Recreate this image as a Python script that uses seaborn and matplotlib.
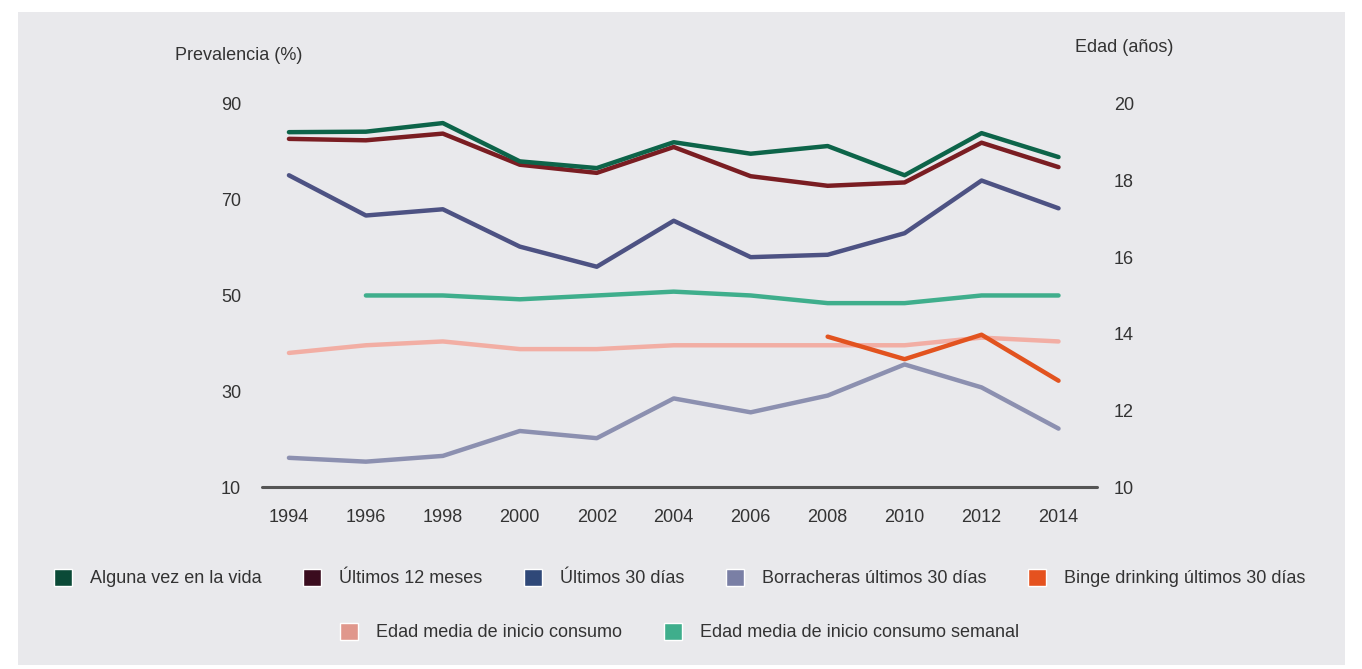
import numpy as np
import pandas as pd
import matplotlib.pyplot as plt
import seaborn as sns
from matplotlib.patches import Patch, Rectangle

years = [1994, 1996, 1998, 2000, 2002, 2004, 2006, 2008, 2010, 2012, 2014]
nan = np.nan

# prevalencias (%) - eje izquierdo
alguna_vez = [84.1, 84.2, 86.0, 78.0, 76.6, 82.0, 79.6, 81.2, 75.1, 83.9, 78.9]
ultimos_12 = [82.7, 82.4, 83.8, 77.3, 75.6, 81.0, 74.9, 72.9, 73.6, 81.9, 76.8]
ultimos_30 = [75.1, 66.7, 68.0, 60.2, 56.0, 65.6, 58.0, 58.5, 63.0, 74.0, 68.2]
borracheras = [16.1, 15.3, 16.5, 21.7, 20.2, 28.5, 25.6, 29.1, 35.6, 30.8, 22.2]
binge = [nan, nan, nan, nan, nan, nan, nan, 41.4, 36.7, 41.8, 32.2]

# edades (años) - eje derecho
edad_inicio = [13.5, 13.7, 13.8, 13.6, 13.6, 13.7, 13.7, 13.7, 13.7, 13.9, 13.8]
edad_semanal = [nan, 15.0, 15.0, 14.9, 15.0, 15.1, 15.0, 14.8, 14.8, 15.0, 15.0]

prev_names = ['Alguna vez en la vida', 'Últimos 12 meses', 'Últimos 30 días',
              'Borracheras últimos 30 días', 'Binge drinking últimos 30 días']
age_names = ['Edad media de inicio consumo', 'Edad media de inicio consumo semanal']

line_colors = {
    'Alguna vez en la vida': '#0d6449',
    'Últimos 12 meses': '#7a1d22',
    'Últimos 30 días': '#4d5283',
    'Borracheras últimos 30 días': '#8c90b0',
    'Binge drinking últimos 30 días': '#e2531f',
    'Edad media de inicio consumo': '#f2aea4',
    'Edad media de inicio consumo semanal': '#3fae8c',
}
legend_colors = {
    'Alguna vez en la vida': '#0b4a37',
    'Últimos 12 meses': '#3a0c1e',
    'Últimos 30 días': '#2f4878',
    'Borracheras últimos 30 días': '#7a7fa5',
    'Binge drinking últimos 30 días': '#e5521f',
    'Edad media de inicio consumo': '#e0978c',
    'Edad media de inicio consumo semanal': '#3fae8c',
}

prev = pd.DataFrame({'Año': years * 5,
                     'Serie': np.repeat(prev_names, len(years)),
                     'Valor': alguna_vez + ultimos_12 + ultimos_30 + borracheras + binge})
ages = pd.DataFrame({'Año': years * 2,
                     'Serie': np.repeat(age_names, len(years)),
                     'Valor': edad_inicio + edad_semanal})

sns.set_style('white')
plt.rcParams['font.family'] = ['Liberation Sans', 'DejaVu Sans']
text_col = '#333333'
fs = 13

fig = plt.figure(figsize=(13.62, 6.69), dpi=100)
fig.patch.set_facecolor('white')
fig.patches.append(Rectangle((18 / 1362, 4 / 669), 1327 / 1362, 653 / 669,
                             transform=fig.transFigure, facecolor='#e9e9ec',
                             edgecolor='none', zorder=-10))

ax = fig.add_axes([262 / 1362, 0.272, 835 / 1362, 0.587])
ax2 = ax.twinx()

sns.lineplot(data=prev, x='Año', y='Valor', hue='Serie', palette=line_colors,
             hue_order=prev_names[::-1], linewidth=3.2, legend=False, ax=ax)
sns.lineplot(data=ages, x='Año', y='Valor', hue='Serie', palette=line_colors,
             linewidth=3.2, legend=False, ax=ax2)
# age lines behind prevalence lines
ax.set_zorder(2)
ax.patch.set_visible(False)
ax2.set_zorder(1)
ax2.set_facecolor('#edeef1')

ax.set_xlim(1993.3, 2015.0)
ax.set_ylim(10, 92)
ax2.set_ylim(10, 10 + 82 / 8)
ax.set_xticks(years)
ax.set_yticks([10, 30, 50, 70, 90])
ax2.set_yticks([10, 12, 14, 16, 18, 20])
ax.axhline(10, color='#555555', linewidth=2.2, zorder=5, clip_on=False)

for a in (ax, ax2):
    for s in a.spines.values():
        s.set_visible(False)
    a.set_xlabel('')
    a.set_ylabel('')
ax.tick_params(axis='y', length=0, pad=15, labelsize=fs, labelcolor=text_col)
ax.tick_params(axis='x', length=0, pad=16, labelsize=fs, labelcolor=text_col)
ax2.tick_params(axis='y', length=0, pad=12, labelsize=fs, labelcolor=text_col)

fig.text(175 / 1362, 1 - 55 / 669, 'Prevalencia (%)', fontsize=fs, color=text_col,
         va='center', ha='left')
fig.text(1075 / 1362, 1 - 47 / 669, 'Edad (años)', fontsize=fs, color=text_col,
         va='center', ha='left')

h1 = [Patch(facecolor=legend_colors[n], label=n) for n in prev_names]
h2 = [Patch(facecolor=legend_colors[n], label=n) for n in age_names]
leg_kw = dict(frameon=False, fontsize=fs, handlelength=1.0, handleheight=1.1,
              handletextpad=1.0, columnspacing=2.3, labelcolor=text_col)
fig.legend(handles=h1, ncol=5, loc='center', bbox_to_anchor=(0.499, 1 - 578 / 669), **leg_kw)
fig.legend(handles=h2, ncol=2, loc='center', bbox_to_anchor=(0.499, 1 - 632 / 669), **leg_kw)

plt.savefig('out.png', dpi=100, facecolor=fig.get_facecolor())
